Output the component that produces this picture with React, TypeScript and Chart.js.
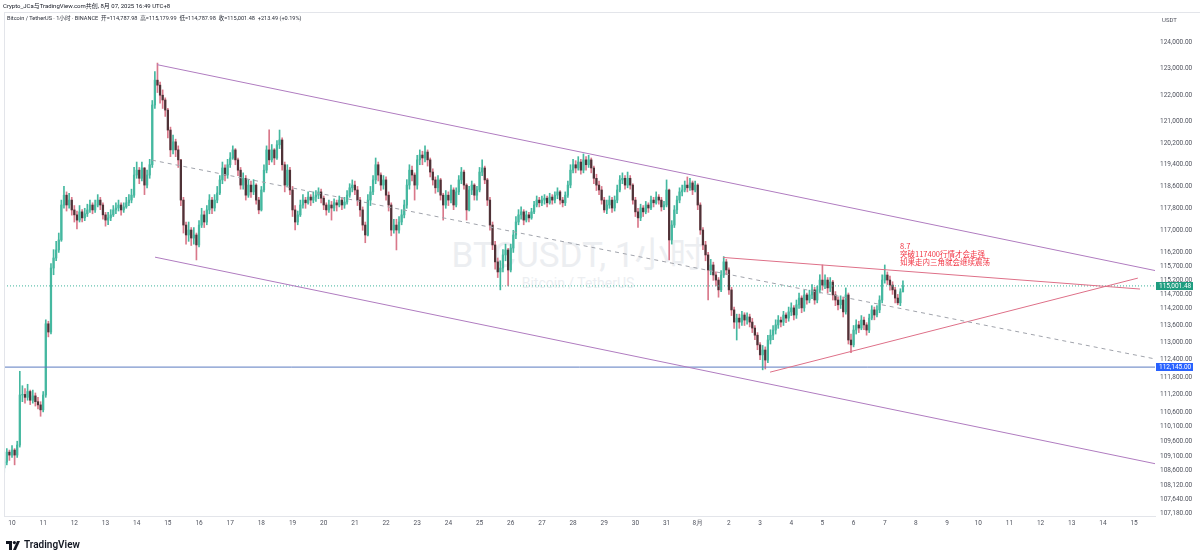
import React, { useEffect, useRef } from "react";
import { Chart, registerables } from "chart.js";

Chart.register(...registerables);

// ---------- data (prices in thousands of USDT, 2-hour candles, UTC+8) ----------
const PRICE_UNIT = 1000;
const FIRST_OPEN = 108.7;
const FIRST_CANDLE_DAY = -0.25; // Jul 9 18:00, counted in days from Jul 10 00:00
const CANDLE_DAYS = 2 / 24;

const closes = [
  108.89, 109.23, 109.13, 109.3, 109.13, 109.47, 111.18, 111.2, 111.1, 111.3,
  111.0, 111.15, 110.95, 110.84, 110.67, 111.18, 113.66, 113.37, 115.64, 116.0,
  116.29, 116.65, 117.92, 118.28, 117.92, 118.1, 117.74, 117.56, 117.37, 117.67,
  117.45, 117.6, 117.74, 117.92, 117.74, 117.92, 118.1, 117.92, 117.56, 117.37,
  117.45, 117.56, 117.74, 117.81, 117.92, 117.74, 117.85, 118.0, 118.1, 118.28,
  119.02, 119.2, 118.9, 119.28, 118.65, 119.02, 119.4, 121.63, 122.57, 122.38,
  122.0, 121.82, 121.44, 120.69, 119.95, 120.25, 119.95, 119.58, 118.1, 117.19,
  116.83, 117.01, 116.72, 116.83, 116.47, 117.19, 117.56, 117.3, 117.74, 118.1,
  117.81, 118.1, 118.36, 118.84, 119.28, 119.02, 119.4, 119.65, 119.95, 119.58,
  119.2, 118.65, 118.9, 118.28, 118.65, 118.4, 118.65, 118.1, 117.74, 118.47,
  119.2, 119.95, 119.58, 119.95, 119.65, 120.14, 120.32, 119.4, 118.65, 119.2,
  118.47, 117.74, 117.3, 117.56, 117.92, 118.1, 118.0, 118.21, 118.1, 118.21,
  118.28, 118.4, 118.17, 117.92, 117.74, 117.92, 117.81, 118.0, 117.92, 118.1,
  117.92, 118.03, 118.28, 118.55, 118.65, 118.47, 118.1, 117.74, 117.19, 116.83,
  118.1, 118.4, 118.84, 119.4, 119.02, 118.65, 118.84, 118.28, 117.92, 117.01,
  117.19, 117.01, 117.3, 117.56, 117.92, 118.65, 119.2, 119.02, 118.65, 119.58,
  119.76, 119.65, 119.87, 119.58, 119.13, 118.84, 118.55, 118.84, 118.28, 117.92,
  118.28, 118.1, 118.47, 117.92, 118.4, 118.84, 119.13, 118.65, 117.74, 118.47,
  118.65, 118.28, 118.47, 119.13, 119.28, 118.84, 118.1, 117.19, 116.47, 115.86,
  115.5, 115.64, 116.11, 116.29, 115.57, 116.36, 116.83, 117.3, 117.56, 117.67,
  117.37, 117.56, 117.45, 117.67, 117.92, 118.1, 118.0, 118.1, 118.17, 118.0,
  118.21, 118.1, 118.28, 118.4, 118.1, 118.0, 118.28, 118.65, 119.2, 119.4,
  119.28, 119.5, 119.2, 119.58, 119.4, 119.58, 119.28, 118.9, 118.65, 118.47,
  118.1, 117.74, 117.92, 118.1, 117.81, 118.1, 118.47, 118.84, 118.9, 118.65,
  118.9, 118.65, 118.1, 117.67, 117.45, 117.81, 117.67, 117.92, 117.81, 118.1,
  118.0, 118.21, 118.1, 117.85, 117.92, 118.47, 116.65, 117.19, 117.74, 118.1,
  118.4, 118.47, 118.65, 118.55, 118.73, 118.47, 118.65, 117.92, 117.01, 116.47,
  116.11, 115.57, 115.75, 115.39, 115.21, 114.86, 115.39, 115.86, 115.57, 114.86,
  114.15, 113.72, 113.86, 113.72, 113.97, 113.79, 113.9, 113.72, 113.51, 113.26,
  112.92, 112.57, 112.74, 112.39, 113.09, 113.26, 113.44, 113.62, 113.79, 113.72,
  113.97, 113.86, 114.08, 114.22, 113.97, 114.33, 114.57, 114.22, 114.68, 114.5,
  114.68, 114.86, 114.5, 114.86, 115.21, 115.03, 115.21, 114.93, 115.14, 114.68,
  114.5, 114.33, 114.5, 114.08, 114.68, 113.09, 112.92, 113.44, 113.62, 113.51,
  113.79, 113.62, 113.44, 113.86, 114.15, 113.97, 114.15, 114.5, 115.21, 115.39,
  115.21, 115.03, 114.86, 114.57, 114.4, 114.79, 115.0015,
];

const highs = [
  109.0, 109.35, 109.3, 109.45, 109.35, 109.6, 112.0, 111.5, 111.4, 111.55,
  111.35, 111.35, 111.25, 111.1, 110.95, 111.3, 113.8, 113.75, 115.8, 116.3,
  116.6, 116.9, 118.1, 118.6, 118.4, 118.35, 118.2, 117.9, 117.7, 117.9,
  117.75, 117.8, 117.95, 118.1, 118.0, 118.1, 118.3, 118.2, 118.0, 117.65,
  117.65, 117.75, 117.9, 118.0, 118.1, 118.0, 118.0, 118.2, 118.3, 118.5,
  119.3, 119.5, 119.3, 119.5, 119.3, 119.2, 119.6, 121.8, 122.9, 123.22,
  122.5, 122.2, 121.9, 121.5, 120.8, 120.5, 120.35, 120.1, 119.6, 118.2,
  117.3, 117.3, 117.1, 117.1, 116.9, 117.35, 117.8, 117.7, 117.9, 118.3,
  118.2, 118.3, 118.6, 119.0, 119.5, 119.4, 119.6, 119.85, 120.1, 120.0,
  119.65, 119.3, 119.1, 119.0, 118.85, 118.8, 118.85, 118.7, 118.2, 118.6,
  119.4, 120.1, 120.7, 120.15, 120.0, 120.3, 120.69, 120.4, 119.5, 119.4,
  119.3, 118.6, 117.9, 117.7, 118.1, 118.3, 118.2, 118.4, 118.3, 118.4,
  118.45, 118.55, 118.5, 118.25, 118.0, 118.1, 118.05, 118.15, 118.1, 118.25,
  118.2, 118.2, 118.45, 118.7, 118.84, 118.8, 118.6, 118.2, 117.85, 117.3,
  118.3, 118.6, 119.0, 119.65, 119.5, 119.1, 119.0, 118.95, 118.4, 118.0,
  117.4, 117.4, 117.5, 117.75, 118.1, 118.85, 119.4, 119.35, 119.1, 119.75,
  119.95, 119.9, 120.1, 119.95, 119.65, 119.25, 118.95, 119.0, 118.9, 118.35,
  118.45, 118.4, 118.65, 118.55, 118.55, 119.0, 119.3, 119.2, 118.7, 118.6,
  118.8, 118.7, 118.6, 119.3, 119.58, 119.35, 118.9, 118.2, 117.3, 116.6,
  116.0, 115.9, 116.3, 116.5, 116.35, 116.5, 117.0, 117.5, 117.75, 117.85,
  117.75, 117.7, 117.65, 117.8, 118.05, 118.25, 118.2, 118.25, 118.3, 118.25,
  118.35, 118.3, 118.4, 118.55, 118.45, 118.2, 118.4, 118.8, 119.4, 119.6,
  119.55, 119.7, 119.6, 119.8, 119.7, 119.75, 119.65, 119.35, 119.05, 118.8,
  118.6, 118.2, 118.1, 118.25, 118.2, 118.25, 118.65, 119.0, 119.1, 119.0,
  119.13, 119.0, 118.7, 118.2, 117.8, 117.95, 117.9, 118.05, 118.0, 118.25,
  118.2, 118.4, 118.3, 118.2, 118.05, 118.84, 118.5, 117.35, 117.9, 118.25,
  118.55, 118.65, 118.8, 118.95, 118.9, 118.8, 118.8, 118.7, 118.0, 117.1,
  116.6, 116.2, 115.95, 115.85, 115.5, 115.3, 115.55, 116.05, 115.95, 115.65,
  114.95, 114.25, 114.0, 114.0, 114.1, 114.05, 114.05, 114.0, 113.85, 113.6,
  113.35, 113.0, 112.9, 112.85, 113.25, 113.45, 113.6, 113.8, 113.95, 113.9,
  114.1, 114.05, 114.25, 114.4, 114.3, 114.5, 114.75, 114.65, 114.85, 114.75,
  114.85, 115.05, 114.95, 115.0, 115.4, 115.75, 115.4, 115.3, 115.3, 115.2,
  114.8, 114.6, 114.65, 114.6, 114.93, 114.75, 113.3, 113.6, 113.8, 113.75,
  113.95, 113.9, 113.7, 114.0, 114.3, 114.25, 114.3, 114.65, 115.4, 115.75,
  115.5, 115.35, 115.15, 114.95, 114.7, 114.9, 115.18,
];

const lows = [
  108.55, 108.8, 108.95, 109.05, 108.8, 109.05, 109.4, 110.95, 110.9, 111.0,
  110.85, 110.9, 110.8, 110.7, 110.45, 110.6, 111.1, 113.2, 113.3, 115.4,
  115.9, 116.2, 116.6, 117.8, 117.7, 117.8, 117.55, 117.3, 117.05, 117.3,
  117.3, 117.35, 117.5, 117.65, 117.6, 117.65, 117.85, 117.75, 117.4, 117.15,
  117.2, 117.35, 117.5, 117.6, 117.7, 117.55, 117.65, 117.8, 117.9, 118.0,
  118.2, 118.9, 118.7, 118.8, 118.3, 118.55, 118.9, 119.3, 121.5, 122.1,
  121.7, 121.5, 121.2, 120.4, 119.7, 119.8, 119.7, 119.3, 117.9, 116.9,
  116.5, 116.6, 116.45, 116.5, 115.93, 116.4, 117.1, 117.1, 117.2, 117.6,
  117.6, 117.7, 118.0, 118.3, 118.7, 118.8, 118.9, 119.3, 119.6, 119.4,
  119.0, 118.5, 118.5, 118.1, 118.2, 118.2, 118.3, 117.95, 117.6, 117.7,
  118.4, 119.1, 119.4, 119.5, 119.4, 119.6, 120.0, 119.2, 118.4, 118.6,
  118.3, 117.5, 117.01, 117.2, 117.5, 117.8, 117.8, 117.95, 117.9, 118.0,
  118.05, 118.15, 118.0, 117.75, 117.55, 117.65, 117.37, 117.7, 117.7, 117.85,
  117.75, 117.8, 117.95, 118.2, 118.4, 118.3, 117.9, 117.5, 117.0, 116.55,
  116.8, 117.9, 118.3, 118.7, 118.8, 118.45, 118.5, 118.1, 117.7, 116.8,
  116.9, 116.29, 116.9, 117.2, 117.45, 117.8, 118.5, 118.8, 118.1, 118.5,
  119.4, 119.4, 119.5, 119.35, 118.95, 118.65, 118.35, 118.4, 118.1, 117.37,
  117.8, 117.9, 118.0, 117.75, 117.85, 118.3, 118.7, 118.5, 117.37, 117.7,
  118.3, 118.1, 118.1, 118.4, 119.0, 118.7, 117.9, 117.0, 116.3, 115.6,
  115.3, 114.86, 115.5, 115.9, 115.0, 115.5, 116.2, 116.7, 117.2, 117.4,
  117.2, 117.3, 117.3, 117.4, 117.6, 117.85, 117.85, 117.9, 117.95, 117.85,
  117.95, 117.95, 118.0, 118.15, 117.95, 117.85, 117.9, 118.2, 118.55, 119.1,
  119.1, 119.2, 119.05, 119.1, 119.2, 119.3, 119.1, 118.7, 118.45, 118.3,
  117.95, 117.65, 117.6, 117.8, 117.65, 117.7, 118.0, 118.4, 118.7, 118.5,
  118.55, 118.5, 117.95, 117.5, 117.1, 117.35, 117.5, 117.6, 117.65, 117.75,
  117.85, 117.95, 117.95, 117.7, 117.75, 117.85, 115.93, 116.5, 117.1, 117.6,
  118.0, 118.25, 118.4, 118.4, 118.45, 118.3, 118.4, 117.75, 116.85, 116.3,
  115.9, 114.5, 115.4, 115.2, 115.0, 114.6, 114.8, 115.3, 115.4, 114.7,
  113.95, 113.5, 113.09, 113.5, 113.6, 113.6, 113.65, 113.55, 113.35, 113.1,
  112.75, 112.4, 112.05, 112.08, 112.3, 112.95, 113.1, 113.3, 113.5, 113.55,
  113.6, 113.7, 113.75, 113.95, 113.8, 113.85, 114.2, 114.05, 114.1, 114.35,
  114.4, 114.55, 114.35, 114.4, 114.75, 114.85, 114.9, 114.75, 114.8, 114.5,
  114.3, 114.15, 114.2, 113.9, 114.0, 112.95, 112.65, 112.85, 113.3, 113.35,
  113.45, 113.45, 113.26, 113.35, 113.8, 113.8, 113.9, 114.05, 114.4, 115.1,
  115.05, 114.85, 114.7, 114.4, 114.33, 114.3, 114.79,
];

// date labels at each day boundary (0 = Jul 10 00:00)
const dayLabels = [
  "10", "11", "12", "13", "14", "15", "16", "17", "18", "19", "20", "21",
  "22", "23", "24", "25", "26", "27", "28", "29", "30", "31", "8月", "2",
  "3", "4", "5", "6", "7", "8", "9", "10", "11", "12", "13", "14", "15",
];

const priceTicks = [
  124000, 123000, 122000, 121000, 120200, 119400, 118600, 117800, 117000,
  116200, 115700, 115200, 114700, 114200, 113600, 113000, 112400, 111800,
  111200, 110600, 110100, 109600, 109100, 108600, 108120, 107640, 107180,
];

const LAST_PRICE = 115001.48;
const SUPPORT_PRICE = 112145;

// drawings: [day, price] endpoints
const upperChannel = [[4.652, 123160], [36.67, 115550]];
const lowerChannel = [[4.588, 116030], [36.67, 108840]];
const midChannel = [[4.491, 119570], [36.67, 112430]];
const triangleTop = [[22.81, 116020], [36.19, 114890]];
const triangleBottom = [[24.32, 111970], [36.12, 115280]];

const X_MIN = -0.257;
const X_MAX = 36.67;
const Y_MIN = 107090;
const Y_MAX = 125185;

const UP = "#45b8a0";
const DOWN_BODY = "#4f3237";
const DOWN_WICK = "#d9788a";
const FONT = "Roboto, 'Liberation Sans', sans-serif";

const fmt = (v: number) =>
  Number(v).toLocaleString("en-US", { minimumFractionDigits: 2, maximumFractionDigits: 2 });

function buildConfig(): any {
  const n = Math.min(closes.length, highs.length, lows.length);
  const bodies: any[] = [];
  const wicks: any[] = [];
  const bodyColors: string[] = [];
  const wickColors: string[] = [];
  for (let i = 0; i < n; i++) {
    const o = i === 0 ? FIRST_OPEN : closes[i - 1];
    const c = closes[i];
    const h = Math.max(highs[i], o, c);
    const l = Math.min(lows[i], o, c);
    const x = FIRST_CANDLE_DAY + i * CANDLE_DAYS;
    bodies.push({ x, y: [o * PRICE_UNIT, c * PRICE_UNIT] });
    wicks.push({ x, y: [l * PRICE_UNIT, h * PRICE_UNIT] });
    const up = c >= o;
    bodyColors.push(up ? UP : DOWN_BODY);
    wickColors.push(up ? UP : DOWN_WICK);
  }
  const seg = (pts: number[][]) => pts.map(([d, p]) => ({ x: d, y: p }));
  const lineDs = (pts: number[][], color: string, dash: number[] = []) => ({
    type: "line",
    data: seg(pts),
    borderColor: color,
    borderWidth: 1,
    borderDash: dash,
    pointRadius: 0,
    fill: false,
    tension: 0,
    order: 0,
  });

  const overlayPlugin = {
    id: "priceBoxes",
    afterDraw(chart: any) {
      const { ctx, chartArea, scales } = chart;
      const y = scales.y;
      ctx.save();
      ctx.strokeStyle = "#e3e5ea";
      ctx.lineWidth = 1;
      ctx.beginPath();
      ctx.moveTo(chartArea.left + 0.5, chartArea.top);
      ctx.lineTo(chartArea.left + 0.5, chartArea.bottom);
      ctx.moveTo(chartArea.left, chartArea.top + 0.5);
      ctx.lineTo(1200, chartArea.top + 0.5);
      ctx.stroke();
      const markers = [
        { value: SUPPORT_PRICE, color: "#2962ff" },
        { value: LAST_PRICE, color: "#1f9d80" },
      ];
      for (const m of markers) {
        const py = Math.round(y.getPixelForValue(m.value));
        ctx.fillStyle = m.color;
        ctx.fillRect(chartArea.right + 1, py - 4, 37, 8);
        ctx.fillStyle = "#ffffff";
        ctx.font = `6.5px ${FONT}`;
        ctx.textBaseline = "middle";
        ctx.textAlign = "left";
        ctx.fillText(fmt(m.value), chartArea.right + 4, py + 0.5);
      }
      ctx.restore();
    },
  };

  return {
    type: "bar",
    data: {
      datasets: [
        lineDs(upperChannel, "#b07cc0"),
        lineDs(lowerChannel, "#b07cc0"),
        lineDs(midChannel, "#a0a3ab", [4, 4]),
        lineDs(triangleTop, "#de7088"),
        lineDs(triangleBottom, "#de7088"),
        lineDs([[X_MIN, SUPPORT_PRICE], [X_MAX, SUPPORT_PRICE]], "#5b7bc0"),
        lineDs([[X_MIN, LAST_PRICE], [X_MAX, LAST_PRICE]], "#3bb39a", [1, 2]),
        {
          type: "bar",
          data: bodies,
          backgroundColor: bodyColors,
          borderWidth: 0,
          barThickness: 1.6,
          grouped: false,
          order: 1,
        },
        {
          type: "bar",
          data: wicks,
          backgroundColor: wickColors,
          borderWidth: 0,
          barThickness: 1,
          grouped: false,
          order: 2,
        },
      ],
    },
    options: {
      animation: false,
      responsive: false,
      devicePixelRatio: 1,
      events: [],
      layout: { padding: { left: 4, top: 12, right: 0, bottom: 25 } },
      plugins: { legend: { display: false }, tooltip: { enabled: false } },
      scales: {
        x: {
          type: "linear",
          offset: false,
          min: X_MIN,
          max: X_MAX,
          grid: { display: false, offset: false, drawTicks: false },
          border: { display: true, color: "#e3e5ea" },
          afterBuildTicks: (scale: any) => {
            scale.ticks = dayLabels.map((_, i) => ({ value: i }));
          },
          afterFit: (scale: any) => {
            scale.height = 14;
            scale.paddingLeft = 0;
            scale.paddingRight = 0;
          },
          ticks: {
            autoSkip: false,
            maxRotation: 0,
            minRotation: 0,
            padding: 3,
            color: "#50535e",
            font: { size: 6.5, family: FONT },
            callback: (v: any) => dayLabels[Math.round(Number(v))] ?? "",
          },
        },
        y: {
          type: "logarithmic",
          position: "right",
          offset: false,
          min: Y_MIN,
          max: Y_MAX,
          grid: { display: false, drawTicks: false },
          border: { display: false },
          afterBuildTicks: (scale: any) => {
            scale.ticks = priceTicks.map((v) => ({ value: v }));
          },
          afterFit: (scale: any) => {
            scale.width = 45;
          },
          ticks: {
            autoSkip: false,
            padding: 5,
            color: "#50535e",
            font: { size: 6.5, family: FONT },
            callback: (v: any) => fmt(Number(v)),
          },
        },
      },
    },
    plugins: [overlayPlugin],
  };
}

export default function App() {
  const ref = useRef<HTMLCanvasElement | null>(null);
  useEffect(() => {
    if (!ref.current) return;
    const chart = new Chart(ref.current, buildConfig());
    return () => chart.destroy();
  }, []);

  const small: React.CSSProperties = {
    position: "absolute",
    whiteSpace: "nowrap",
    color: "#131722",
    fontFamily: `${FONT}, 'Noto Sans CJK SC'`,
    lineHeight: 1,
  };

  return (
    <div
      style={{
        position: "fixed",
        left: 0,
        top: 0,
        width: 1200,
        height: 555,
        background: "#ffffff",
        overflow: "hidden",
      }}
    >
      {/* watermark behind the chart */}
      <div
        style={{
          ...small,
          left: 578,
          top: 255,
          transform: "translate(-50%, -50%)",
          fontSize: 35,
          color: "#eceef1",
          fontFamily: `${FONT}, 'Noto Sans CJK SC'`,
        }}
      >
        BTCUSDT, 1小时
      </div>
      <div
        style={{
          ...small,
          left: 578,
          top: 283,
          transform: "translate(-50%, -50%)",
          fontSize: 14,
          color: "#eceef1",
        }}
      >
        Bitcoin / TetherUS
      </div>

      <canvas
        ref={ref}
        width={1200}
        height={555}
        style={{ position: "absolute", left: 0, top: 0, width: 1200, height: 555 }}
      />

      <div style={{ ...small, left: 3, top: 3, fontSize: 6 }}>
        Crypto_JCa与TradingView.com共创, 8月 07, 2025 16:49 UTC+8
      </div>
      <div style={{ ...small, left: 7, top: 16, fontSize: 5.6, color: "#2a2e39" }}>
        Bitcoin / TetherUS · 1小时 · BINANCE&nbsp;&nbsp;开=114,787.98&nbsp;&nbsp;高=115,179.99&nbsp;&nbsp;低=114,787.98&nbsp;&nbsp;收=115,001.48&nbsp;&nbsp;+213.49 (+0.19%)
      </div>
      <div style={{ ...small, left: 1162, top: 17, fontSize: 6, color: "#50535e" }}>USDT</div>

      <div
        style={{
          ...small,
          left: 900,
          top: 242,
          fontSize: 7.5,
          lineHeight: "8px",
          color: "#f23645",
          fontFamily: "'Noto Sans CJK SC', sans-serif",
        }}
      >
        <div>8.7</div>
        <div>突破117400行情才会走强</div>
        <div>如果走内三角就会继续震荡</div>
      </div>

      <div style={{ position: "absolute", left: 6, top: 540, display: "flex", alignItems: "center", gap: 4 }}>
        <svg width="14" height="9" viewBox="0 0 14 9">
          <rect x="0" y="0" width="6" height="3" fill="#131722" />
          <rect x="3" y="0" width="3" height="9" fill="#131722" />
          <circle cx="8.4" cy="1.6" r="1.6" fill="#131722" />
          <polygon points="11,0 14,0 10,9 7,9" fill="#131722" />
        </svg>
        <span style={{ fontFamily: FONT, fontSize: 10, fontWeight: 600, color: "#131722", lineHeight: 1 }}>
          TradingView
        </span>
      </div>
    </div>
  );
}
